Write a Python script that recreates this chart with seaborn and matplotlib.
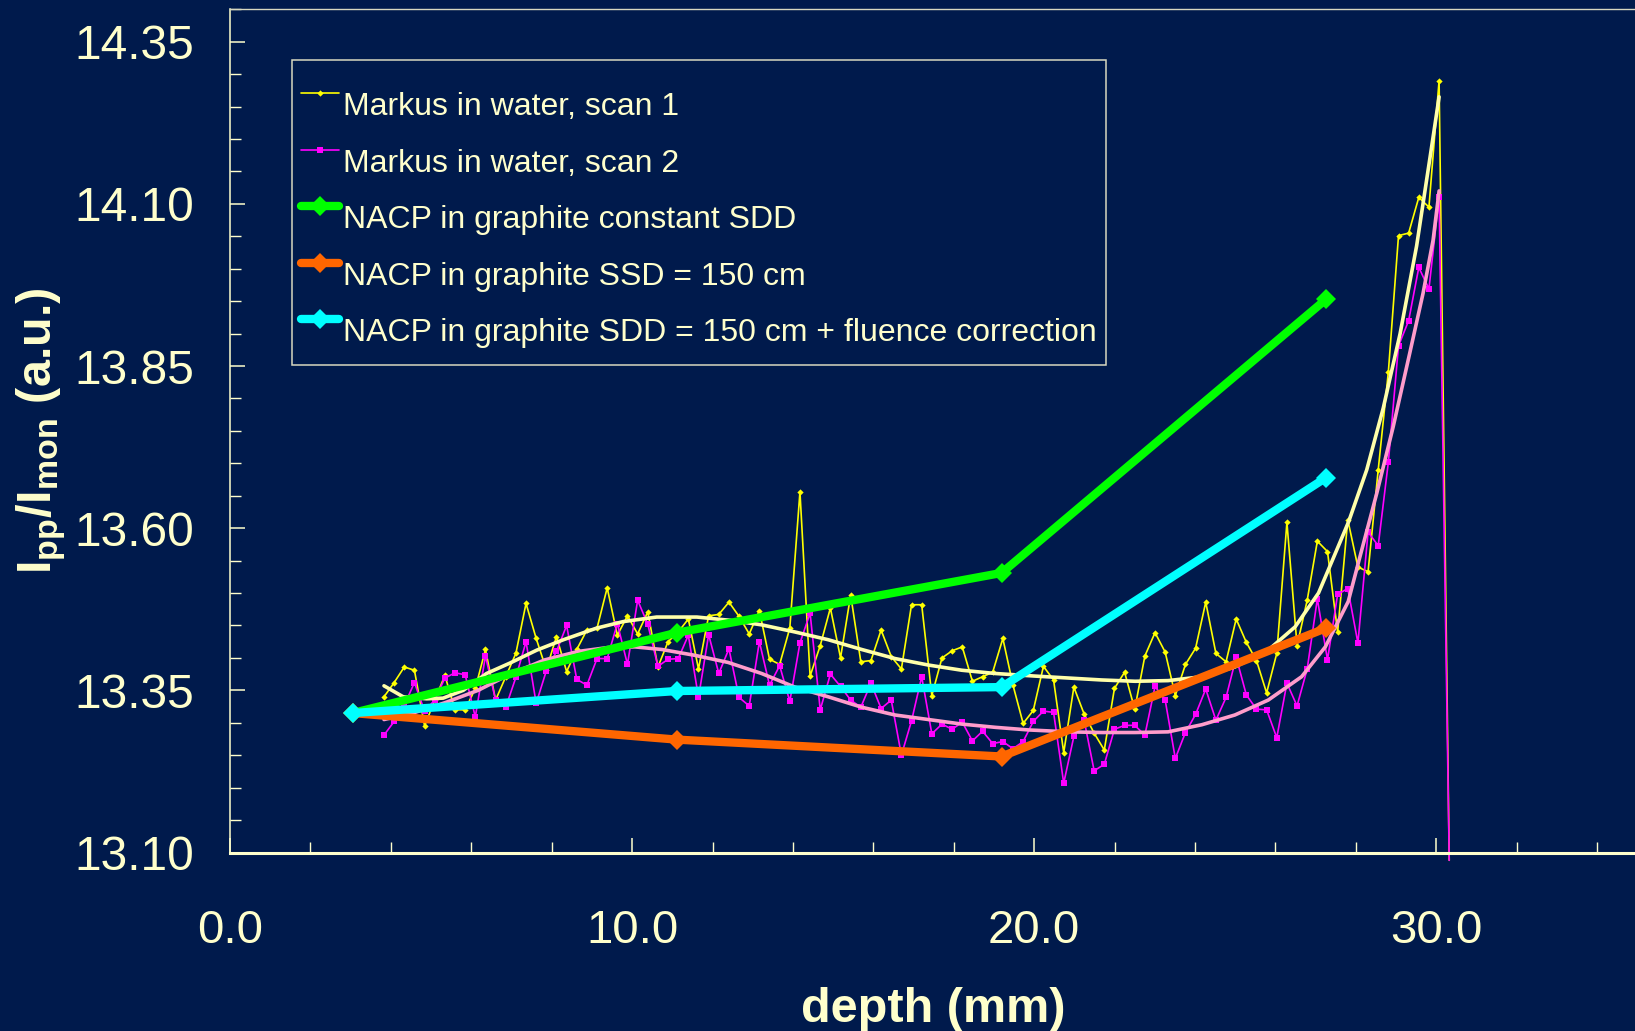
import numpy as np
import matplotlib
matplotlib.use("Agg")
import matplotlib.pyplot as plt
from matplotlib.lines import Line2D
from matplotlib.legend_handler import HandlerLine2D
from matplotlib.ticker import MultipleLocator, FormatStrFormatter
import seaborn as sns

# ---------------------------------------------------------------- data
# Markus chamber depth scans in water (regular scan grid, mm)
scan_start, scan_step = 3.83, 0.2523

scan1 = [
    13.340, 13.362, 13.386, 13.381, 13.295, 13.335, 13.373, 13.320, 13.320, 13.353,
    13.413, 13.335, 13.371, 13.407, 13.484, 13.430, 13.382, 13.433, 13.379, 13.413,
    13.443, 13.446, 13.508, 13.435, 13.465, 13.437, 13.471, 13.386, 13.425, 13.440,
    13.460, 13.383, 13.465, 13.467, 13.486, 13.464, 13.437, 13.473, 13.398, 13.390,
    13.446, 13.656, 13.372, 13.419, 13.477, 13.400, 13.497, 13.394, 13.396, 13.443,
    13.402, 13.383, 13.482, 13.482, 13.342, 13.400, 13.411, 13.417, 13.364, 13.371,
    13.378, 13.430, 13.358, 13.299, 13.319, 13.387, 13.366, 13.254, 13.355, 13.314,
    13.284, 13.258, 13.353, 13.378, 13.321, 13.403, 13.439, 13.409, 13.342, 13.390,
    13.415, 13.486, 13.407, 13.394, 13.460, 13.424, 13.396, 13.346, 13.407, 13.609,
    13.419, 13.489, 13.580, 13.564, 13.440, 13.613, 13.540, 13.533, 13.690, 13.841,
    14.051, 14.055, 14.110, 14.095, 14.290, 13.088,
]

scan2 = [
    13.281, 13.302, 13.327, 13.362, 13.318, 13.335, 13.369, 13.377, 13.374, 13.309,
    13.403, 13.335, 13.324, 13.370, 13.425, 13.330, 13.380, 13.410, 13.450, 13.367,
    13.358, 13.399, 13.399, 13.453, 13.390, 13.489, 13.452, 13.387, 13.398, 13.399,
    13.435, 13.339, 13.436, 13.376, 13.414, 13.339, 13.326, 13.425, 13.358, 13.388,
    13.333, 13.423, 13.469, 13.320, 13.375, 13.356, 13.335, 13.324, 13.361, 13.322,
    13.335, 13.250, 13.303, 13.371, 13.283, 13.298, 13.290, 13.301, 13.272, 13.287,
    13.268, 13.271, 13.260, 13.271, 13.302, 13.318, 13.316, 13.207, 13.279, 13.305,
    13.226, 13.236, 13.290, 13.296, 13.296, 13.281, 13.356, 13.335, 13.245, 13.285,
    13.313, 13.352, 13.304, 13.339, 13.401, 13.343, 13.321, 13.320, 13.277, 13.361,
    13.326, 13.383, 13.491, 13.397, 13.498, 13.507, 13.423, 13.594, 13.573, 13.702,
    13.881, 13.920, 14.002, 13.969, 14.110, 13.088,
]

# smooth trend curves through the two scans
fit1_depth = [3.83, 4.31, 4.89, 5.30, 5.80, 6.38, 6.96, 7.63, 8.29, 9.12,
              9.78, 10.61, 11.61, 12.43, 13.22, 14.05, 14.88, 15.71, 16.54, 17.37,
              18.20, 19.03, 20.02, 20.85, 21.68, 22.51, 23.33, 24.17, 24.99, 25.82,
              26.49, 27.07, 27.31, 27.82, 28.27, 28.68, 29.10, 29.51, 29.84, 30.07]
fit1 = [13.357, 13.340, 13.337, 13.338, 13.350, 13.376, 13.392, 13.412, 13.428, 13.446,
        13.456, 13.463, 13.463, 13.458, 13.451, 13.440, 13.428, 13.413, 13.399, 13.389,
        13.381, 13.376, 13.372, 13.369, 13.366, 13.364, 13.365, 13.371, 13.386, 13.412,
        13.448, 13.500, 13.535, 13.610, 13.690, 13.785, 13.900, 14.035, 14.170, 14.265]

fit2_depth = [3.83, 4.60, 5.35, 6.17, 7.00, 7.83, 8.66, 9.40, 10.07, 10.74,
              11.56, 12.39, 13.22, 14.05, 14.88, 15.71, 16.54, 17.37, 18.20, 19.03,
              19.85, 20.85, 21.68, 22.51, 23.33, 24.17, 24.99, 25.82, 26.65, 27.24,
              27.81, 28.08, 28.52, 28.93, 29.34, 29.67, 29.92, 30.07]
fit2 = [13.305, 13.316, 13.331, 13.350, 13.376, 13.397, 13.410, 13.416, 13.417, 13.413,
        13.404, 13.393, 13.376, 13.355, 13.340, 13.324, 13.312, 13.305, 13.298, 13.293,
        13.289, 13.286, 13.285, 13.285, 13.286, 13.297, 13.312, 13.335, 13.371, 13.417,
        13.487, 13.551, 13.654, 13.757, 13.870, 13.962, 14.044, 14.120]

# NACP chamber in graphite
nacp_depth = [3.05, 11.12, 19.19, 27.26]
nacp_const_sdd = [13.315, 13.439, 13.531, 13.953]
nacp_ssd150 = [13.315, 13.274, 13.248, 13.446]
nacp_sdd150_fluence = [13.315, 13.349, 13.355, 13.678]

series_names = [
    "Markus in water, scan 1",
    "Markus in water, scan 2",
    "NACP in graphite constant SDD",
    "NACP in graphite SSD = 150 cm",
    "NACP in graphite SDD = 150 cm + fluence correction",
]

y_ticks = [13.10, 13.35, 13.60, 13.85, 14.10, 14.35]

# ---------------------------------------------------------------- style
navy = "#001A4C"
cream = "#FFFFCC"
yellow, magenta = "#FFFF00", "#FF00FF"
green, orange, cyan = "#00FF00", "#FF6600", "#00FFFF"
fit1_color, fit2_color = "#FFFFAA", "#FF9CCB"

NACP_LW, NACP_MS = 6.0, 10.0

sns.set_theme(style="ticks")
plt.rcParams.update({
    "font.family": ["Liberation Sans", "DejaVu Sans"],
    "mathtext.fontset": "custom",
    "mathtext.rm": "Liberation Sans",
    "mathtext.bf": "Liberation Sans:bold",
    "mathtext.it": "Liberation Sans:italic",
    "axes.facecolor": navy,
    "figure.facecolor": navy,
    "axes.grid": False,
})

fig = plt.figure(figsize=(16.35, 10.31), dpi=100)
ax = fig.add_axes([0.14067, 0.17313, 0.86077, 0.81785])
ax.set_facecolor(navy)

scan_depth = scan_start + scan_step * np.arange(len(scan1))
n_marked = len(scan1) - 1

# raw scans (the final point is the drop at the end of the scan)
sns.lineplot(x=scan_depth, y=scan1, ax=ax, color=yellow, lw=1.2,
             marker="D", markersize=3.2, markeredgewidth=0,
             markevery=slice(0, n_marked), estimator=None, sort=False,
             legend=False, clip_on=False, zorder=2)
sns.lineplot(x=scan_depth, y=scan2, ax=ax, color=magenta, lw=1.2,
             marker="s", markersize=4.2, markeredgewidth=0,
             markevery=slice(0, n_marked), estimator=None, sort=False,
             legend=False, clip_on=False, zorder=2.1)

# trend curves
sns.lineplot(x=fit1_depth, y=fit1, ax=ax, color=fit1_color, lw=2.6,
             estimator=None, sort=False, legend=False, zorder=3)
sns.lineplot(x=fit2_depth, y=fit2, ax=ax, color=fit2_color, lw=2.6,
             estimator=None, sort=False, legend=False, zorder=3.1)

# NACP measurements
for vals, col, z in [(nacp_const_sdd, green, 4), (nacp_ssd150, orange, 4.1),
                     (nacp_sdd150_fluence, cyan, 4.2)]:
    sns.lineplot(x=nacp_depth, y=vals, ax=ax, color=col, lw=NACP_LW,
                 marker="D", markersize=NACP_MS, markeredgewidth=0,
                 estimator=None, sort=False, legend=False, zorder=z)

# ---------------------------------------------------------------- axes
ax.set_xlim(0, 35)
ax.set_ylim(13.10, 14.40)
ax.xaxis.set_major_locator(MultipleLocator(10))
ax.xaxis.set_minor_locator(MultipleLocator(2))
ax.xaxis.set_major_formatter(FormatStrFormatter("%.1f"))
ax.set_yticks(y_ticks)
ax.yaxis.set_minor_locator(MultipleLocator(0.05))
ax.yaxis.set_major_formatter(FormatStrFormatter("%.2f"))

ax.tick_params(axis="both", which="major", direction="in", length=10.8,
               width=1.1, colors=cream)
ax.tick_params(axis="both", which="minor", direction="in", length=7.9,
               width=1.0, colors=cream)
ax.tick_params(axis="x", which="major", pad=41, labelsize=34)
ax.tick_params(axis="y", which="major", pad=26, labelsize=34.5)
ax.tick_params(top=False, right=False, which="both")

ax.spines["right"].set_visible(False)
ax.spines["top"].set_color("#D8D8C0")
ax.spines["top"].set_linewidth(1.0)
ax.spines["left"].set_color(cream)
ax.spines["left"].set_linewidth(1.1)
ax.spines["bottom"].set_color(cream)
ax.spines["bottom"].set_linewidth(2.2)

ax.set_xlabel("depth (mm)", fontsize=35, fontweight="bold", color=cream)
ax.xaxis.set_label_coords(0.5, -0.2007)
ax.xaxis.label.set_va("baseline")
ax.set_ylabel(r"$\mathbf{I_{pp}/I_{mon}}$ (a.u.)", fontsize=35,
              fontweight="bold", color=cream)
ax.yaxis.set_label_coords(-0.1267, 0.5)
ax.yaxis.label.set_va("baseline")


# ---------------------------------------------------------------- legend
class RaisedLineHandler(HandlerLine2D):
    """Legend line drawn level with the cap height of its label."""

    def create_artists(self, legend, orig_handle, xdescent, ydescent,
                       width, height, fontsize, trans):
        artists = super().create_artists(legend, orig_handle, xdescent,
                                         ydescent, width, height, fontsize,
                                         trans)
        for art in artists:
            art.set_ydata(np.asarray(art.get_ydata()) + 0.145 * fontsize)
        return artists


handles = [
    Line2D([], [], color=yellow, lw=1.2, marker="D", markersize=3.2,
           markeredgewidth=0),
    Line2D([], [], color=magenta, lw=1.2, marker="s", markersize=4.2,
           markeredgewidth=0),
    Line2D([], [], color=green, lw=NACP_LW, marker="D", markersize=NACP_MS,
           markeredgewidth=0),
    Line2D([], [], color=orange, lw=NACP_LW, marker="D", markersize=NACP_MS,
           markeredgewidth=0),
    Line2D([], [], color=cyan, lw=NACP_LW, marker="D", markersize=NACP_MS,
           markeredgewidth=0),
]

leg = ax.legend(handles, series_names, loc="upper left",
                bbox_to_anchor=(0.04377, 0.93987), bbox_transform=ax.transAxes,
                borderaxespad=0, frameon=True, fancybox=False, shadow=False,
                facecolor=navy, edgecolor="#D8D8C0", framealpha=1,
                fontsize=23, labelcolor=cream, handlelength=1.17,
                handleheight=2.0, handletextpad=0.13, borderpad=0.3,
                labelspacing=0.22, title=" ", title_fontsize=2,
                handler_map={Line2D: RaisedLineHandler()})
leg.get_frame().set_linewidth(1.1)
leg.set_zorder(10)

fig.savefig("out.png", dpi=100, facecolor=navy)
